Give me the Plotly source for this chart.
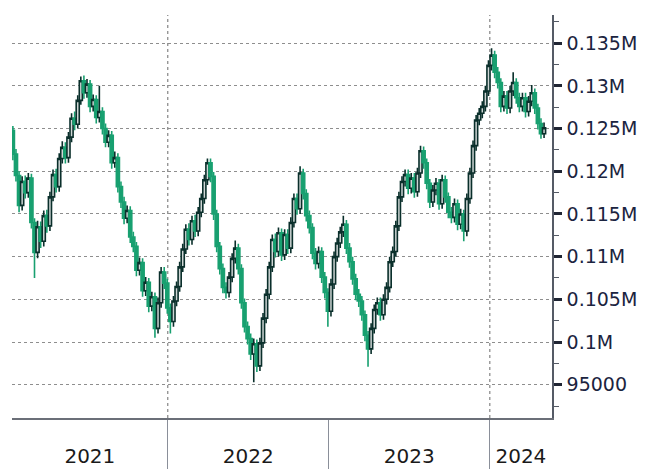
import pandas as pd
import plotly.graph_objects as go

# Weekly OHLC
open_ = [124800, 122000,119500,116000,118800,117500,119200,114000,110500,113500,
111800,114800,113600,117000,119600,118200,121500,122800,121600,124000,
126200,125500,128300,130600,129200,130200,127600,128400,126300,127000,
125000,123400,124200,121000,121600,118200,116400,114500,115400,112300,
111200,108400,109300,106000,107000,104200,105300,101600,104600,108200,
106900,104000,102400,104800,106500,108800,110900,113200,112000,114200,
113000,115200,116800,119000,121000,119400,115000,111200,108600,106400,
105800,107600,109800,111000,108600,104600,101800,100400,98600,99800,
97200,99900,102800,105600,108800,112000,110600,112800,110200,112600,
111000,114000,116800,115600,119800,117400,114800,113400,110400,109200,
110600,107600,105800,103600,106800,110000,111600,112900,113800,111000,
109400,107400,105600,104800,103200,100800,99200,101600,103800,104600,
103200,105000,106400,109400,110600,113600,117000,118800,119600,118000,
119200,117600,119800,122400,121000,118600,116400,117800,118600,116200,
119000,117000,115200,114600,116200,113800,115000,113000,116800,119800,
123000,126000,126800,127600,129400,132400,133600,131600,130400,127600,
128800,127400,129400,130400,128600,127600,128600,127000,128200,129200,
127400,125600,124400]

high = [125300,122600,120000,119400,119500,119800,119700,114500,114200,114100,
115400,115500,117600,120200,120300,122100,123500,123400,124600,126800,
127000,128900,131100,131200,130800,130700,129000,128900,130000,127500,
125600,124800,124700,122300,122100,118800,117000,116000,115900,112900,
111700,109900,109800,107600,107500,105900,105800,105200,108800,108800,
107400,104500,105400,107100,109400,111500,113800,113900,114800,114900,
115800,117400,119600,121500,121500,119900,115500,111700,109200,107000,
108200,110400,111900,111500,109100,105100,102400,101000,100400,100300,
100500,103400,106200,109400,112600,112700,113400,113300,113200,113200,
114600,117400,117400,120600,120300,117900,115400,113900,111000,111200,
111100,108200,106300,107400,110600,112200,113500,114800,114300,111600,
110000,108000,106200,105400,103700,101300,102200,104400,105200,105200,
105600,107000,110000,111200,114200,117600,119400,120200,120200,119800,
119800,120400,123000,122900,121500,119100,118400,119200,119100,119600,
119500,117500,115800,116800,116700,115600,115500,117400,120400,123600,
126600,127400,128200,130000,133000,134400,134100,132200,130900,129400,
129400,130000,131600,130900,129200,129200,129200,128800,130100,129700,
127900,126200,125700]

low = [121300,118800,115200,115400,116800,116900,113300,107500,109800,111000,
111200,112800,113000,116500,117500,117600,120900,120900,121000,123400,
124800,125000,127800,128500,128600,126900,127000,125600,125700,124300,
122800,122800,120300,120400,117500,115700,113800,113900,111600,110500,
107700,107800,105300,105400,103500,103600,100500,101000,104000,106200,
103300,101000,101800,104200,105900,108200,110300,111300,111400,112300,
112400,114600,116200,118400,118700,114300,110500,107900,105700,105100,
105200,107000,109200,107900,103900,101100,99700,97900,95300,96500,
96600,99300,102200,105000,108200,109900,110000,109500,109600,110300,
110400,113400,114900,115000,116700,114100,112700,109700,108500,108600,
106900,105100,101800,103000,106200,109400,111000,112300,110300,108700,
106700,104900,104100,102500,100100,97100,98600,101000,103200,102500,
102600,104400,105800,108800,110000,113000,116400,118200,117300,117400,
116900,117000,119200,120300,117900,115700,115800,117200,115500,115600,
116300,114500,113900,114000,113100,113200,111800,112400,116200,119200,
122400,125400,126200,127000,128800,131800,130900,129700,126900,127000,
126700,126800,128800,127900,126900,127000,126300,126400,127600,126700,
124900,123800,123900]

close = [122000,119500,116000,118800,117500,119200,114000,110500,113500,111800,
114800,113600,117000,119600,118200,121500,122800,121600,124000,126200,
125500,128300,130600,129200,130200,127600,128400,126300,127000,125000,
123400,124200,121000,121600,118200,116400,114500,115400,112300,111200,
108400,109300,106000,107000,104200,105300,101600,104600,108200,106900,
104000,102400,104800,106500,108800,110900,113200,112000,114200,113000,
115200,116800,119000,121000,119400,115000,111200,108600,106400,105800,
107600,109800,111000,108600,104600,101800,100400,98600,99800,97200,
99900,102800,105600,108800,112000,110600,112800,110200,112600,111000,
114000,116800,115600,119800,117400,114800,113400,110400,109200,110600,
107600,105800,103600,106800,110000,111600,112900,113800,111000,109400,
107400,105600,104800,103200,100800,99200,101600,103800,104600,103200,
105000,106400,109400,110600,113600,117000,118800,119600,118000,119200,
117600,119800,122400,121000,118600,116400,117800,118600,116200,119000,
117000,115200,114600,116200,113800,115000,113000,116800,119800,123000,
126000,126800,127600,129400,132400,133600,131600,130400,127600,128800,
127400,129400,130400,128600,127600,128600,127000,128200,129200,127400,
125600,124400,125100]

start_date = "2021-01-15"
dates = pd.date_range(start_date, periods=len(close), freq="7D")

y_tickvals = [95000, 100000, 105000, 110000, 115000, 120000, 125000, 130000, 135000]
y_ticktext = ["95000", "0.1M", "0.105M", "0.11M", "0.115M", "0.12M", "0.125M", "0.13M", "0.135M"]

year_bounds = ["2022-01-01", "2023-01-01", "2024-01-01"]
year_labels = ["2021", "2022", "2023", "2024"]
grid_years = ["2022-01-01", "2024-01-01"]

x_range = [pd.Timestamp("2021-01-13"), pd.Timestamp("2024-05-21")]
y_range = [91100, 138300]

edges = [x_range[0]] + [pd.Timestamp(b) for b in year_bounds] + [x_range[1]]
mids = [edges[i] + (edges[i + 1] - edges[i]) / 2 for i in range(len(edges) - 1)]

GREEN = "#18a070"
DARK = "#0a2f2b"

fig = go.Figure(go.Candlestick(
    x=dates, open=open_, high=high, low=low, close=close,
    increasing=dict(line=dict(color=DARK, width=1.6), fillcolor="#cfd6d5"),
    decreasing=dict(line=dict(color=GREEN, width=1.6), fillcolor=GREEN),
    whiskerwidth=0,
    showlegend=False,
))

grid_style = dict(color="#8e8e8e", width=1.3, dash="dot")
shapes = [dict(type="line", xref="x", yref="paper", x0=g, x1=g, y0=0, y1=1,
               line=grid_style, layer="below") for g in grid_years]

# the page body adds an 8px offset, so the figure is sized to fit the window
fig.update_layout(
    width=652, height=461,
    margin=dict(l=4, r=108, t=7, b=51),
    paper_bgcolor="white", plot_bgcolor="white",
    boxgap=0.0, boxgroupgap=0,
    shapes=shapes,
    xaxis=dict(
        type="date", range=x_range, automargin=False,
        rangeslider=dict(visible=False),
        showgrid=False, zeroline=False,
        showline=True, linecolor="#6b6f78", linewidth=1.5,
        tickmode="array", tickvals=mids, ticktext=year_labels,
        ticks="", ticklabelstandoff=19,
        tickfont=dict(family="DejaVu Sans", size=20, color="#1a1a1a"),
        minor=dict(tickmode="array", tickvals=year_bounds, ticks="outside",
                   ticklen=51, tickwidth=1.3, tickcolor="#8a8f99", showgrid=False),
    ),
    yaxis=dict(
        side="right", range=y_range, automargin=False,
        tickmode="array", tickvals=y_tickvals, ticktext=y_ticktext,
        ticks="outside", ticklen=8, tickwidth=3, tickcolor="#1f2533",
        showline=True, linecolor="#555b66", linewidth=1.5,
        showgrid=True, gridcolor="#8e8e8e", griddash="dot", gridwidth=1.3,
        zeroline=False,
        ticklabelstandoff=1,
        tickfont=dict(family="DejaVu Sans", size=19, color="#1b2440"),
        minor=dict(dtick=2500, tick0=92500, ticks="outside", ticklen=5,
                   tickwidth=1, tickcolor="#555b66", showgrid=False),
    ),
)

fig.write_html("out.html")
